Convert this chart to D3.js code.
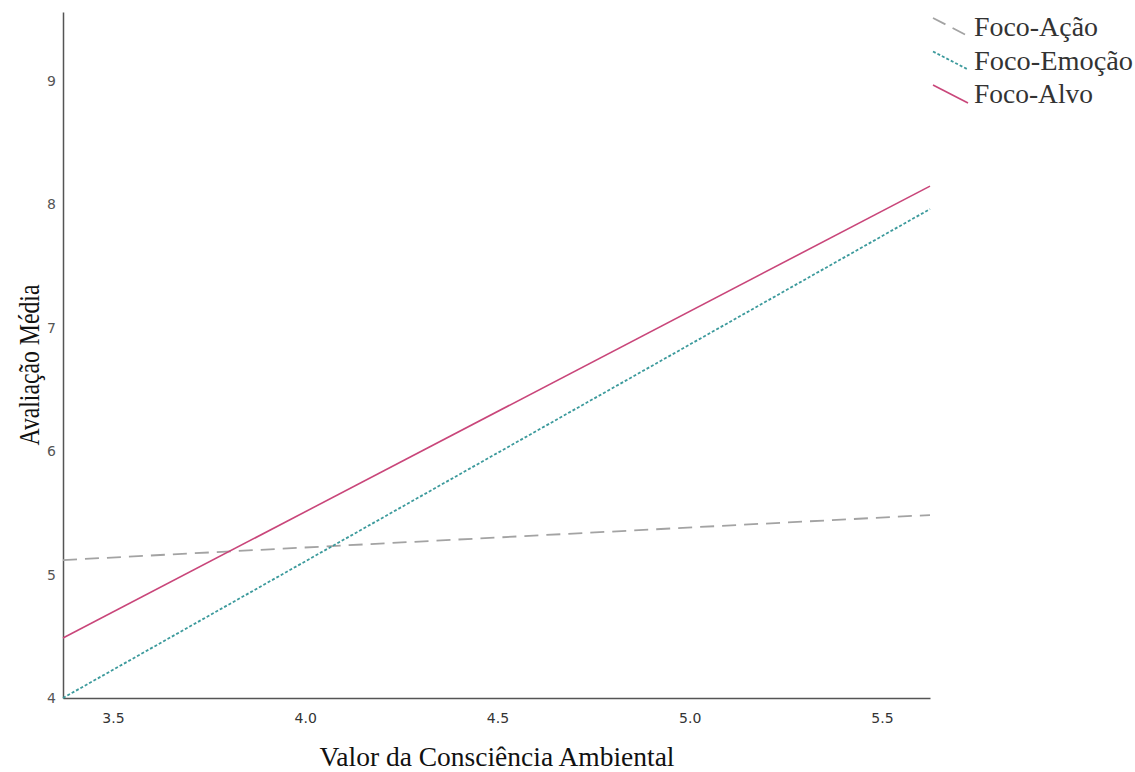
<!DOCTYPE html>
<html>
<head>
<meta charset="utf-8">
<script src="https://cdn.jsdelivr.net/npm/d3@7"></script>
<style>
  body { margin: 0; background: #fff; }
  svg { display: block; }
</style>
</head>
<body>
<div id="chart"></div>
<script>
// endpoints of each fitted line
const xEnds = [3.37, 5.625];
const seriesNames = ["Foco-Ação", "Foco-Emoção", "Foco-Alvo"];
const acaoValues = [5.118, 5.483];
const emocaoValues = [4.0, 7.963];
const alvoValues = [4.486, 8.149];
const xTicks = [3.5, 4.0, 4.5, 5.0, 5.5];
const yTicks = [4, 5, 6, 7, 8, 9];

const width = 1135, height = 772;
const margin = {top: 12, right: 205, bottom: 74, left: 63};

const svg = d3.select("#chart").append("svg")
  .attr("width", width)
  .attr("height", height);

const x = d3.scaleLinear()
  .domain(xEnds)
  .range([margin.left, width - margin.right]);

const y = d3.scaleLinear()
  .domain([4, 9.56])
  .range([height - margin.bottom, margin.top]);

const styles = [
  {color: "#a3a3a3", dash: "14,8", width: 1.8},
  {color: "#3c9a9c", dash: "3,2", width: 1.8},
  {color: "#c9467a", dash: null, width: 1.6}
];

// axes (no tick marks, only labels)
const xAxis = svg.append("g")
  .attr("transform", "translate(0," + y(4) + ")")
  .call(d3.axisBottom(x).tickValues(xTicks).tickFormat(d3.format(".1f")).tickSize(0).tickPadding(15));
xAxis.select(".domain").attr("stroke", "#555").attr("stroke-width", 1.5);
xAxis.selectAll("text").style("font-family", "DejaVu Sans").style("font-size", "14px").attr("fill", "#333");

const yAxis = svg.append("g")
  .attr("transform", "translate(" + margin.left + ",0)")
  .call(d3.axisLeft(y).tickValues(yTicks).tickFormat(d3.format("d")).tickSize(0).tickPadding(7));
yAxis.select(".domain").attr("stroke", "#555").attr("stroke-width", 1.5);
yAxis.selectAll("text").style("font-family", "DejaVu Sans").style("font-size", "14px").attr("fill", "#555");

// lines
const line = d3.line()
  .x((d, i) => x(xEnds[i]))
  .y(d => y(d));

[acaoValues, emocaoValues, alvoValues].forEach((vals, i) => {
  svg.append("path")
    .datum(vals)
    .attr("d", line)
    .attr("fill", "none")
    .attr("stroke", styles[i].color)
    .attr("stroke-width", styles[i].width)
    .attr("stroke-dasharray", styles[i].dash);
});

// axis titles
svg.append("text")
  .attr("x", 497)
  .attr("y", 766)
  .attr("text-anchor", "middle")
  .style("font-family", "Liberation Serif")
  .style("font-size", "27px")
  .attr("fill", "#111")
  .attr("textLength", 355)
  .attr("lengthAdjust", "spacingAndGlyphs")
  .text("Valor da Consciência Ambiental");

svg.append("text")
  .attr("transform", "translate(39,365) rotate(-90)")
  .attr("text-anchor", "middle")
  .style("font-family", "Liberation Serif")
  .style("font-size", "29px")
  .attr("fill", "#111")
  .attr("textLength", 161)
  .attr("lengthAdjust", "spacingAndGlyphs")
  .text("Avaliação Média");

// legend
const legendWidths = [124, 159, 119];
const legend = svg.append("g");
seriesNames.forEach((name, i) => {
  const base = 36 + i * 33.5;
  legend.append("line")
    .attr("x1", 933).attr("y1", base - 18)
    .attr("x2", 968).attr("y2", base)
    .attr("stroke", styles[i].color)
    .attr("stroke-width", styles[i].width)
    .attr("stroke-dasharray", styles[i].dash);
  legend.append("text")
    .attr("x", 974)
    .attr("y", base)
    .style("font-family", "Liberation Serif")
    .style("font-size", "28px")
    .attr("fill", "#333")
    .attr("textLength", legendWidths[i])
    .attr("lengthAdjust", "spacingAndGlyphs")
    .text(name);
});
</script>
</body>
</html>
